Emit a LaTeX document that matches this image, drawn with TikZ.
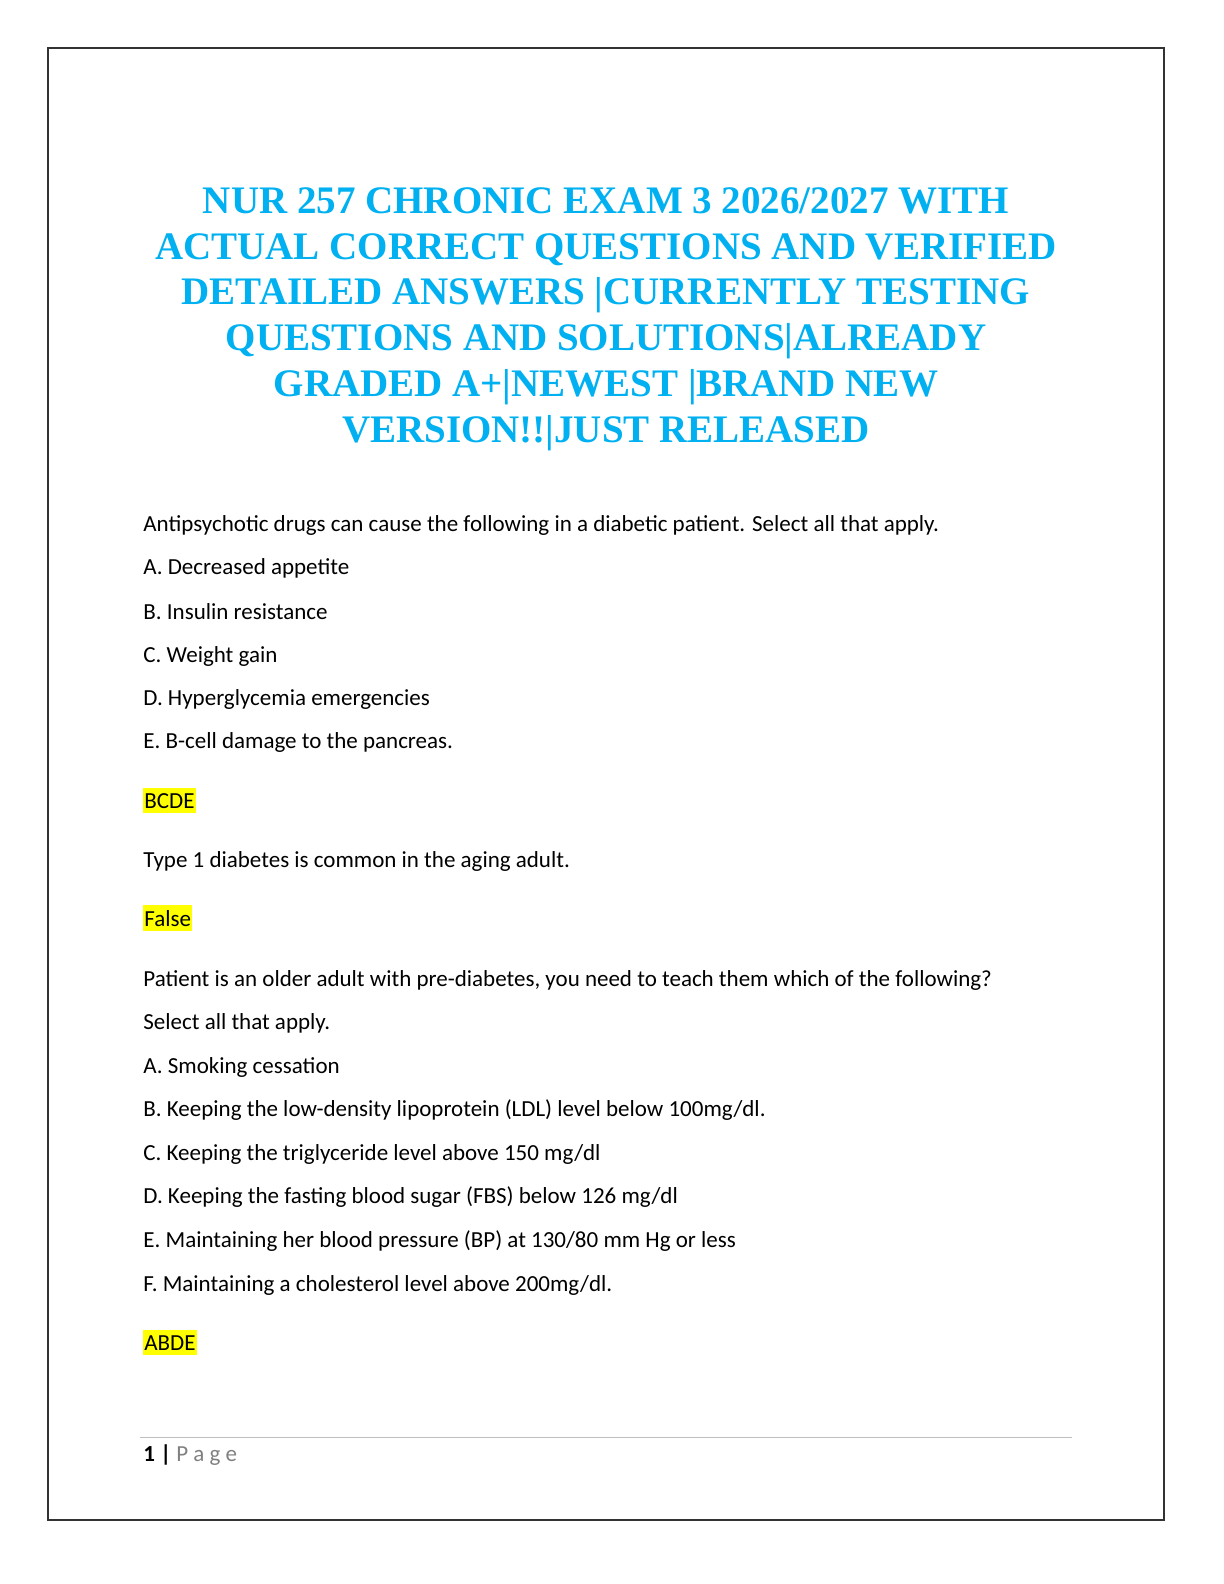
\documentclass[tikz,border=0pt]{standalone}
\usepackage{fontspec}
\setmainfont{Carlito}
\newfontfamily\titlefont{Liberation Serif}
\definecolor{ttl}{RGB}{0,176,240}
\definecolor{hl}{RGB}{255,255,0}
\begin{document}
\begin{tikzpicture}[x=0.5pt,y=-0.5pt,
 body/.style={anchor=base west,inner sep=0pt,font=\fontsize{11.5}{13}\selectfont},
 ttlline/.style={anchor=base,inner sep=0pt,text=ttl,font=\titlefont\bfseries\fontsize{19.5}{22}\selectfont},
 ans/.style={body,fill=hl,inner xsep=0.5pt,inner ysep=2.5pt}]
\useasboundingbox (0,0) rectangle (1224,1584);
\draw[line width=0.6pt,black!80] (48,48) rectangle (1164,1520);
\node[ttlline] (t1) at (606,213) {NUR 257 CHRONIC EXAM 3 2026/2027 WITH};
\node[ttlline] (t2) at (606,259) {ACTUAL CORRECT QUESTIONS AND VERIFIED};
\node[ttlline] (t3) at (606,304) {DETAILED ANSWERS |CURRENTLY TESTING};
\node[ttlline] (t4) at (606,350) {QUESTIONS AND SOLUTIONS|ALREADY};
\node[ttlline] (t5) at (606,396) {GRADED A+|NEWEST |BRAND NEW};
\node[ttlline] (t6) at (606,442) {VERSION!!|JUST RELEASED};
\node[body] (q1) at (143,531) {Antipsychotic drugs can cause the following in a diabetic patient. Select all that apply.};
\node[body] (a1) at (143,574) {A. Decreased appetite};
\node[body] (b1) at (143,619) {B. Insulin resistance};
\node[body] (c1) at (143,662) {C. Weight gain};
\node[body] (d1) at (143,705) {D. Hyperglycemia emergencies};
\node[body] (e1) at (143,748) {E. B-cell damage to the pancreas.};
\node[ans] (r1) at (143,808) {BCDE};
\node[body] (q2) at (143,867) {Type 1 diabetes is common in the aging adult.};
\node[ans] (r2) at (143,926) {False};
\node[body] (q3) at (143,986) {Patient is an older adult with pre-diabetes, you need to teach them which of the following?};
\node[body] (q3b) at (143,1029) {Select all that apply.};
\node[body] (a3) at (143,1073) {A. Smoking cessation};
\node[body] (b3) at (143,1116) {B. Keeping the low-density lipoprotein (LDL) level below 100mg/dl.};
\node[body] (c3) at (143,1160) {C. Keeping the triglyceride level above 150 mg/dl};
\node[body] (d3) at (143,1203) {D. Keeping the fasting blood sugar (FBS) below 126 mg/dl};
\node[body] (e3) at (143,1247) {E. Maintaining her blood pressure (BP) at 130/80 mm Hg or less};
\node[body] (f3) at (143,1291) {F. Maintaining a cholesterol level above 200mg/dl.};
\node[ans] (r3) at (143,1350) {ABDE};
\draw[black!25,line width=0.5pt] (140,1437) -- (1072,1437);
\node[body] (pg) at (143,1461) {\textbf{1 |} \textcolor{black!50}{P a g e}};
\end{tikzpicture}
\end{document}
